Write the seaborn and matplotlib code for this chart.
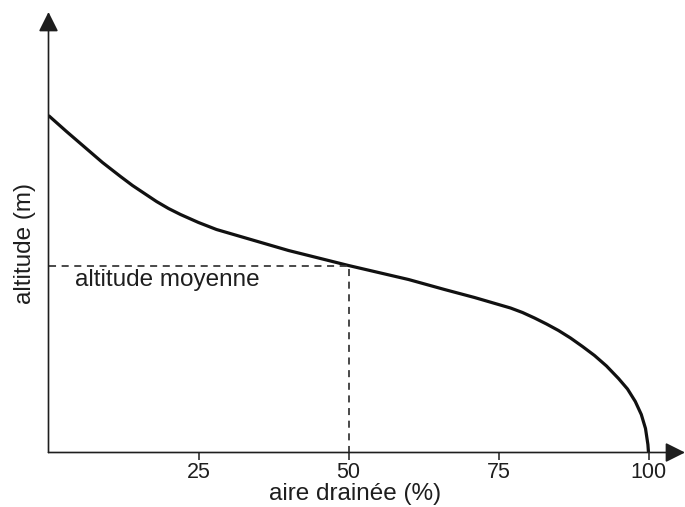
import matplotlib
matplotlib.use("Agg")
import matplotlib.pyplot as plt
import seaborn as sns
import pandas as pd

# Hypsometric curve: drained area (%) vs altitude (relative units)
area_pct = [0, 3, 6, 9, 12, 14, 16, 18, 20, 22, 25, 28, 32, 36, 40, 45, 50,
            55, 60, 66, 71, 75, 77, 79, 81, 83, 85, 87, 89, 91, 93, 95,
            96.5, 97.8, 98.8, 99.5, 99.9, 100]
altitude = [337, 321, 305.5, 290, 276, 267, 259, 251, 244, 238, 230, 223, 216,
            209, 202, 194.5, 187, 180, 173, 163, 155, 148, 144.5, 140, 134.5,
            128.5, 122, 114.5, 106, 97, 86.5, 74, 63.5, 51, 38, 24, 8, 0]

mean_area = 50
mean_altitude = 187

tick_values = [25, 50, 75, 100]
tick_labels = ["25", "50", "75", "100"]

sns.set_theme(style="white")
plt.rcParams["font.family"] = ["Liberation Sans", "DejaVu Sans"]

W, H = 685, 507
fig = plt.figure(figsize=(W / 100, H / 100), dpi=100)
x0, y0, x1, y1 = 48.5, 452.5, 685, 12
ax = fig.add_axes([x0 / W, (H - y0) / H, (x1 - x0) / W, (y0 - y1) / H])
ax.set_xlim(0, (x1 - x0) / 6.0)
ax.set_ylim(0, y0 - y1)
ax.set_facecolor("white")

ink = "#1e1e1e"

df = pd.DataFrame({"aire": area_pct, "altitude": altitude})
sns.lineplot(data=df, x="aire", y="altitude", ax=ax, color="#111111",
             linewidth=2.3, sort=False, solid_capstyle="butt",
             solid_joinstyle="round")

# mean altitude guide lines
ax.plot([0, mean_area], [mean_altitude, mean_altitude], color="#3a3a3a",
        lw=1.3, linestyle=(0, (3.9, 3.1)))
ax.plot([mean_area, mean_area], [0, mean_altitude], color="#3a3a3a",
        lw=1.3, linestyle=(0, (3.9, 3.1)))
ax.text(4.4, mean_altitude - 20.5, "altitude moyenne", fontsize=17.5,
        color=ink, ha="left", va="baseline")

# axes drawn as arrows
for spine in ax.spines.values():
    spine.set_visible(False)
arrow = dict(arrowstyle="-|>,head_length=12,head_width=6", mutation_scale=1,
             color=ink, lw=1.2, shrinkA=0, shrinkB=0)
ax.annotate("", xy=(1, 0), xytext=(0, 0), xycoords="axes fraction",
            textcoords="axes fraction", arrowprops=arrow, annotation_clip=False)
ax.annotate("", xy=(0, 1), xytext=(0, 0), xycoords="axes fraction",
            textcoords="axes fraction", arrowprops=arrow, annotation_clip=False)

ax.set_xticks(tick_values)
ax.set_xticklabels(tick_labels, fontsize=15.5, color=ink)
ax.set_yticks([])
ax.tick_params(axis="x", direction="out", length=5, width=1.1, color=ink,
               pad=1.5, bottom=True)
ax.set_xlabel("")
ax.set_ylabel("")

fig.text(355 / W, (H - 500) / H, "aire drainée (%)", fontsize=17.5, color=ink,
         ha="center", va="baseline")
fig.text(25 / W, (H - 243) / H, "altitude (m)", fontsize=17.5, color=ink,
         ha="center", va="center", rotation=90)

fig.savefig("out.png", dpi=100, facecolor="white")
